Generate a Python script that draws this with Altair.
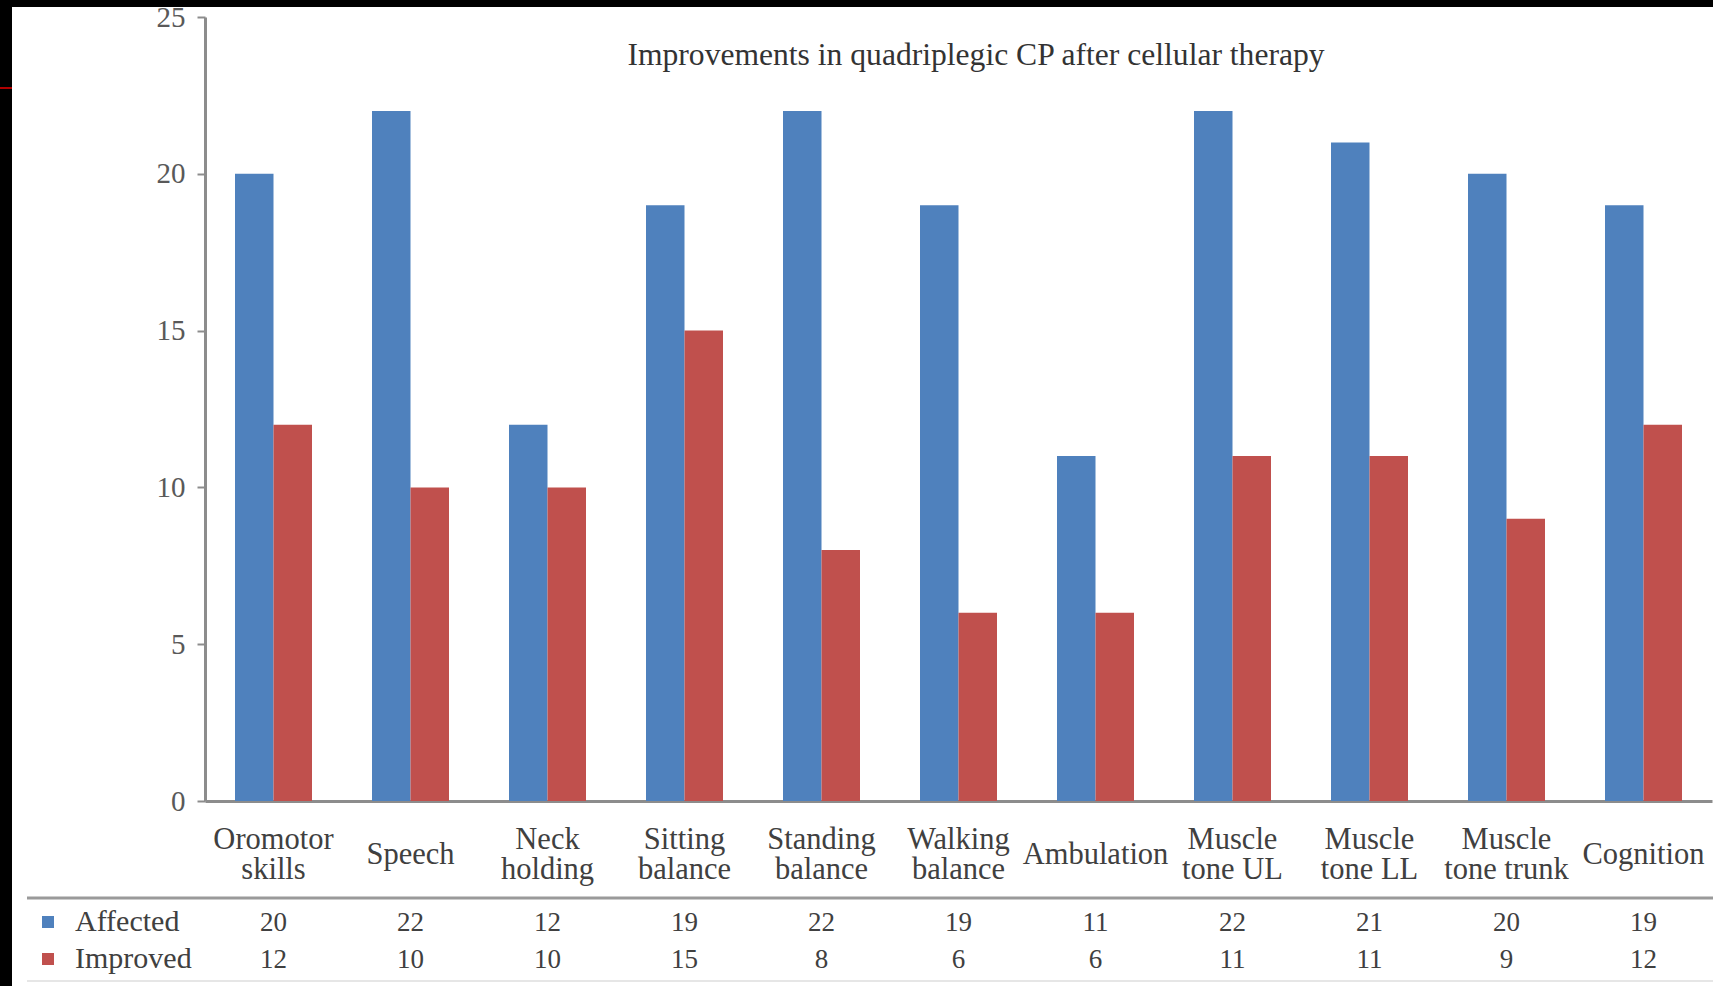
import altair as alt
import pandas as pd

categories = ["Oromotor|skills", "Speech", "Neck|holding", "Sitting|balance", "Standing|balance",
              "Walking|balance", "Ambulation", "Muscle|tone UL", "Muscle|tone LL",
              "Muscle|tone trunk", "Cognition"]
series = ["Affected", "Improved"]
affected = [20, 22, 12, 19, 22, 19, 11, 22, 21, 20, 19]
improved = [12, 10, 10, 15, 8, 6, 6, 11, 11, 9, 12]
y_ticks = [0, 5, 10, 15, 20, 25]
colors = ["#4F81BD", "#C0504D"]
title_text = "Improvements in quadriplegic CP after cellular therapy"

rows = []
for c, a, i in zip(categories, affected, improved):
    rows.append({"category": c, "series": "Affected", "value": a})
    rows.append({"category": c, "series": "Improved", "value": i})
df = pd.DataFrame(rows)

SERIF = "Liberation Serif"
W, H = 1507, 784
PAD_L, PAD_T = 205, 17

xscale = alt.Scale(domain=categories, paddingInner=0.438, paddingOuter=0.219)

bars = alt.Chart(df).mark_bar().encode(
    x=alt.X("category:N", sort=categories, scale=xscale,
            axis=alt.Axis(title=None, labelAngle=0, ticks=False, domainColor="#8c8c8c",
                          domainWidth=3, labelExpr="split(datum.label, '|')",
                          labelBaseline="middle",
                          labelPadding={"condition": {"test": "indexof(datum.label, '|') >= 0",
                                                      "value": 38},
                                        "value": 53},
                          labelFont=SERIF, labelFontSize=30.5, labelLineHeight=30,
                          labelColor="#404040",
                          labelOverlap=False, labelBound=False, labelLimit=0)),
    xOffset=alt.XOffset("series:N", sort=series),
    y=alt.Y("value:Q", scale=alt.Scale(domain=[0, 25], nice=False),
            axis=alt.Axis(title=None, values=y_ticks, grid=False, tickSize=8,
                          tickColor="#8c8c8c", tickWidth=2, domainColor="#8c8c8c",
                          domainWidth=3, labelPadding=12, labelFont=SERIF,
                          labelFontSize=29, labelColor="#595959")),
    color=alt.Color("series:N", sort=series,
                    scale=alt.Scale(domain=series, range=colors),
                    legend=alt.Legend(title=None, orient="none", legendX=-172, legendY=890,
                                      symbolType="square", symbolSize=144,
                                      symbolStrokeWidth=0, labelFont=SERIF,
                                      labelFontSize=30, labelColor="#404040",
                                      labelOffset=12, rowPadding=7, padding=0)),
)

table = alt.Chart(df).mark_text(font=SERIF, fontSize=27, color="#404040").encode(
    x=alt.X("category:N", sort=categories, scale=xscale),
    y=alt.Y("series:N", sort=series,
            scale=alt.Scale(domain=series, range=[906, 943], padding=0), axis=None),
    text=alt.Text("value:Q"),
)

one = alt.Data(values=[{"title": title_text}])
title = alt.Chart(one).mark_text(font=SERIF, fontSize=31.6, color="#333333",
                                 align="center", baseline="alphabetic").encode(
    x=alt.value(771), y=alt.value(48), text="title:N")
top_line = alt.Chart(one).mark_rule(color="#9a9a9a", strokeWidth=3).encode(
    x=alt.value(-178), x2=alt.value(W + 10), y=alt.value(881))
bottom_line = alt.Chart(one).mark_rule(color="#e6e6e6", strokeWidth=2).encode(
    x=alt.value(-178), x2=alt.value(W + 10), y=alt.value(964))
left_band = alt.Chart(one).mark_rect(color="black").encode(
    x=alt.value(-PAD_L), x2=alt.value(-PAD_L + 12), y=alt.value(-PAD_T), y2=alt.value(986))
top_band = alt.Chart(one).mark_rect(color="black").encode(
    x=alt.value(-PAD_L), x2=alt.value(W + 10), y=alt.value(-PAD_T), y2=alt.value(-PAD_T + 7))
red_tick = alt.Chart(one).mark_rule(color="#b00000", strokeWidth=2).encode(
    x=alt.value(-PAD_L), x2=alt.value(-PAD_L + 12), y=alt.value(88 - PAD_T))

chart = alt.layer(bars, table, title, top_line, bottom_line, left_band, top_band,
                  red_tick).resolve_scale(
    y="independent"
).properties(
    width=W, height=H,
    autosize=alt.AutoSizeParams(type="none"),
    padding={"left": PAD_L, "top": PAD_T, "right": 1713 - PAD_L - W, "bottom": 986 - PAD_T - H},
    background="white",
).configure_view(stroke=None)

chart.save("out.html", embed_options={"renderer": "svg", "actions": False})
